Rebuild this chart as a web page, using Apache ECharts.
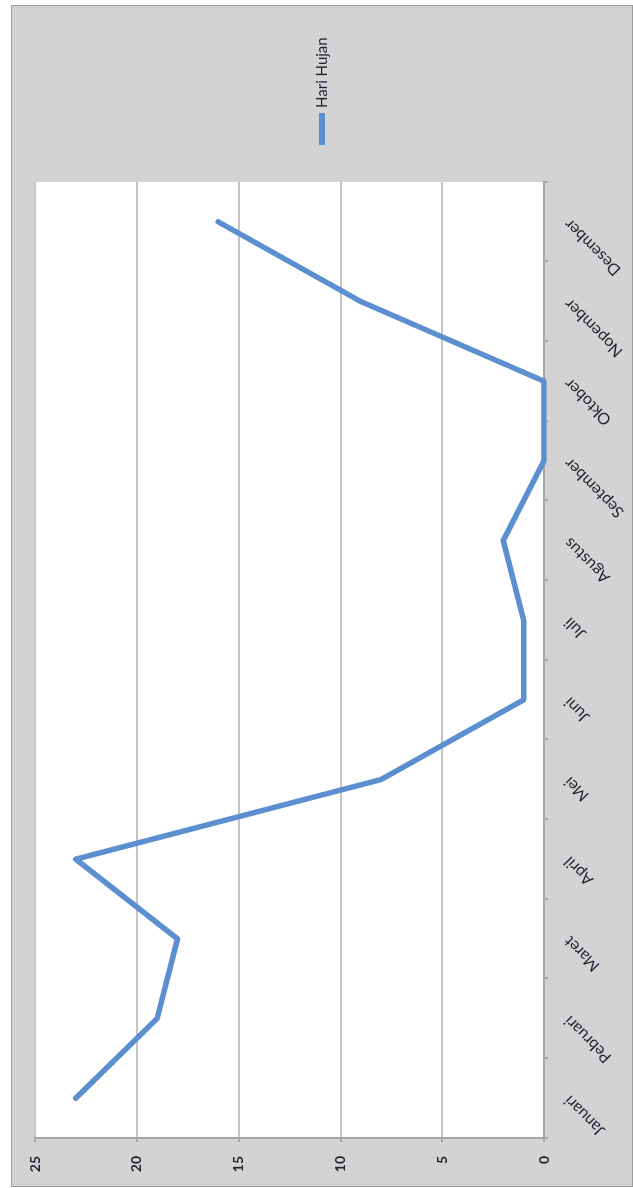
<!DOCTYPE html>
<html>
<head>
<meta charset="utf-8">
<script src="https://cdn.jsdelivr.net/npm/echarts@6/dist/echarts.min.js"></script>
<style>
  html, body { margin: 0; padding: 0; background: #fff; }
  body { width: 633px; height: 1188px; position: relative; overflow: hidden; }
  /* chart is drawn upright, then the whole frame is turned a quarter left */
  #frame {
    position: absolute;
    left: 11px;
    top: 1187px;
    width: 1182px;
    height: 622px;
    transform-origin: 0 0;
    transform: rotate(-90deg);
    background: #d3d3d3;
    box-sizing: border-box;
    border: 1px solid #9c9c9c;
  }
  #chart { width: 100%; height: 100%; }
</style>
</head>
<body>
<div id="frame"><div id="chart"></div></div>
<script>
const months = ['Januari', 'Pebruari', 'Maret', 'April', 'Mei', 'Juni',
  'Juli', 'Agustus', 'September', 'Oktober', 'Nopember', 'Desember'];
const hariHujan = [23, 19, 18, 23, 8, 1, 1, 2, 0, 0, 9, 16];
const seriesName = 'Hari Hujan';

const font = 'Lato, "Open Sans", sans-serif';
const textColor = '#1f2433';
const axisColor = '#a6a6a6';
const gridColor = '#c4c4c4';
const lineColor = '#5b8fd0';

const chart = echarts.init(document.getElementById('chart'));

chart.setOption({
  animation: false,
  backgroundColor: 'transparent',
  legend: {
    data: [seriesName],
    orient: 'vertical',
    left: 1036,
    top: 'middle',
    itemWidth: 32,
    itemHeight: 6,
    icon: 'rect',
    textStyle: { fontFamily: font, fontSize: 15, color: textColor },
    itemGap: 6
  },
  grid: {
    left: 48,
    top: 23,
    width: 956,
    height: 509,
    show: true,
    backgroundColor: '#ffffff',
    borderWidth: 0
  },
  xAxis: {
    type: 'category',
    data: months,
    boundaryGap: true,
    axisLine: { lineStyle: { color: axisColor, width: 2 } },
    axisTick: { show: true, alignWithLabel: false, length: 4, lineStyle: { color: axisColor, width: 2 } },
    axisLabel: {
      rotate: 45,
      margin: 23,
      interval: 0,
      fontFamily: font,
      fontSize: 16,
      color: textColor
    },
    splitLine: { show: false }
  },
  yAxis: {
    type: 'value',
    min: 0,
    max: 25,
    interval: 5,
    axisLine: { show: true, lineStyle: { color: axisColor, width: 2 } },
    axisTick: { show: true, length: 4, lineStyle: { color: axisColor, width: 2 } },
    axisLabel: {
      margin: 18,
      fontFamily: font,
      fontSize: 14,
      fontWeight: 'bold',
      color: textColor
    },
    splitLine: { lineStyle: { color: gridColor, width: 2 } }
  },
  series: [{
    name: seriesName,
    type: 'line',
    data: hariHujan,
    showSymbol: false,
    symbol: 'none',
    lineStyle: { color: lineColor, width: 5.5, join: 'round', cap: 'round' },
    itemStyle: { color: lineColor }
  }]
});
</script>
</body>
</html>
